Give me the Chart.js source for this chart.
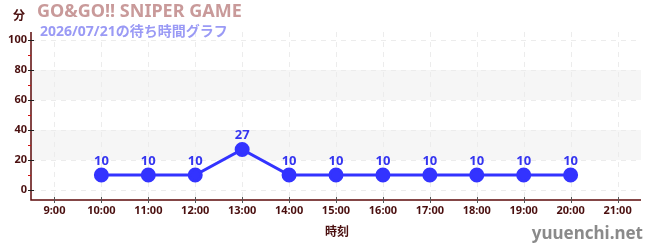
<!DOCTYPE html>
<html lang="ja">
<head>
    <meta charset="UTF-8" />
    <title>GO&GO!! SNIPER GAME</title>
    <style>
        html, body { margin: 0; padding: 0; background: #fff; }
        #wrap { width: 650px; height: 250px; position: relative; }
    </style>
    <script src="https://cdn.jsdelivr.net/npm/chart.js"></script>
</head>
<body>
<div id="wrap">
    <canvas id="waitChart" width="650" height="250"></canvas>
</div>

<script>
  const hours = [10, 11, 12, 13, 14, 15, 16, 17, 18, 19, 20];
  const waits = [10, 10, 10, 27, 10, 10, 10, 10, 10, 10, 10];
  const yTicks = [0, 20, 40, 60, 80, 100];

  const FONT = "'Noto Sans', 'Noto Sans CJK JP', sans-serif";
  const DARK = "#4a0f0f";
  const AXIS = "#5c0a0a";

  const points = hours.map((h, i) => ({ x: h, y: waits[i] }));

  // bands, minor ticks, data labels and the texts round the chart
  const decor = {
    id: "decor",
    beforeDatasetsDraw(chart) {
      const { ctx, chartArea: a, scales: { x, y } } = chart;
      ctx.save();
      ctx.fillStyle = "#f6f6f6";
      [[20, 40], [60, 80]].forEach(([lo, hi]) => {
        ctx.fillRect(a.left, y.getPixelForValue(hi), a.right - a.left, y.getPixelForValue(lo) - y.getPixelForValue(hi));
      });
      ctx.setLineDash([5, 5]);
      ctx.strokeStyle = "#ececec";
      ctx.lineWidth = 1;
      yTicks.forEach((v) => {
        const py = Math.round(y.getPixelForValue(v)) + 0.5;
        ctx.beginPath(); ctx.moveTo(a.left, py); ctx.lineTo(a.right, py); ctx.stroke();
      });
      for (let h = 9; h <= 21; h++) {
        const px = Math.round(x.getPixelForValue(h)) + 0.5;
        ctx.beginPath(); ctx.moveTo(px, a.top); ctx.lineTo(px, a.bottom); ctx.stroke();
      }
      ctx.setLineDash([]);

      // axes
      ctx.strokeStyle = AXIS;
      ctx.lineWidth = 1.5;
      ctx.beginPath();
      ctx.moveTo(a.left, a.top);
      ctx.lineTo(a.left, a.bottom);
      ctx.lineTo(a.right, a.bottom);
      ctx.stroke();

      // y ticks
      ctx.lineWidth = 1;
      ctx.strokeStyle = "#222";
      yTicks.forEach((v) => {
        const py = Math.round(y.getPixelForValue(v)) + 0.5;
        ctx.beginPath(); ctx.moveTo(a.left - 3, py); ctx.lineTo(a.left + 3, py); ctx.stroke();
      });
      ctx.strokeStyle = "#d01010";
      [10, 30, 50, 70, 90].forEach((v) => {
        const py = Math.round(y.getPixelForValue(v)) + 0.5;
        ctx.beginPath(); ctx.moveTo(a.left - 3, py); ctx.lineTo(a.left, py); ctx.stroke();
      });
      // x ticks
      ctx.strokeStyle = "#555";
      for (let h = 9; h <= 21; h++) {
        const px = Math.round(x.getPixelForValue(h)) + 0.5;
        ctx.beginPath(); ctx.moveTo(px, a.bottom - 3); ctx.lineTo(px, a.bottom + 3); ctx.stroke();
      }
      ctx.restore();
    },
    afterDatasetsDraw(chart) {
      const { ctx, scales: { x, y } } = chart;
      ctx.save();
      ctx.fillStyle = "#3535f0";
      ctx.font = "bold 13px " + FONT;
      ctx.textAlign = "center";
      ctx.textBaseline = "middle";
      points.forEach((p) => {
        ctx.fillText(String(p.y), x.getPixelForValue(p.x), y.getPixelForValue(p.y) - 14);
      });

      ctx.textAlign = "left";
      ctx.fillStyle = "#c99a9a";
      ctx.font = "bold 18px " + FONT;
      ctx.fillText("GO&GO!! SNIPER GAME", 37, 12);
      ctx.fillStyle = "#9a9af5";
      ctx.font = "bold 14px " + FONT;
      ctx.fillText("2026/07/21の待ち時間グラフ", 40, 32);

      ctx.fillStyle = DARK;
      ctx.font = "bold 12px " + FONT;
      ctx.fillText("分", 13, 17);
      ctx.textAlign = "center";
      ctx.fillText("時刻", 337, 233);

      ctx.textAlign = "right";
      ctx.fillStyle = "#8a8a8a";
      ctx.font = "bold 17px " + FONT;
      ctx.fillText("yuuenchi.net", 643, 234);
      ctx.restore();
    }
  };

  new Chart(document.getElementById("waitChart"), {
    type: "line",
    data: {
      datasets: [{
        data: points,
        borderColor: "#3333ff",
        backgroundColor: "#3333ff",
        borderWidth: 3,
        pointRadius: 6,
        pointHoverRadius: 6,
        tension: 0
      }]
    },
    options: {
      responsive: false,
      animation: false,
      layout: { padding: { left: 0, right: 9, top: 32, bottom: 0 } },
      plugins: { legend: { display: false }, tooltip: { enabled: false } },
      scales: {
        x: {
          type: "linear",
          min: 8.5,
          max: 21.5,
          afterBuildTicks(scale) {
            scale.ticks = [];
            for (let h = 9; h <= 21; h++) scale.ticks.push({ value: h });
          },
          afterFit(scale) { scale.height = 50; },
          border: { display: false },
          grid: { display: false, tickLength: 0 },
          ticks: {
            padding: 4,
            color: DARK,
            font: { family: FONT, size: 11, weight: "bold" },
            callback: (v) => v + ":00"
          }
        },
        y: {
          min: -6.667,
          max: 105.33,
          afterBuildTicks(scale) {
            scale.ticks = yTicks.map((v) => ({ value: v }));
          },
          afterFit(scale) { scale.width = 31; },
          border: { display: false },
          grid: { display: false, tickLength: 0 },
          ticks: {
            padding: 4,
            color: DARK,
            font: { family: FONT, size: 11, weight: "bold" }
          }
        }
      }
    },
    plugins: [decor]
  });
</script>
</body>
</html>
